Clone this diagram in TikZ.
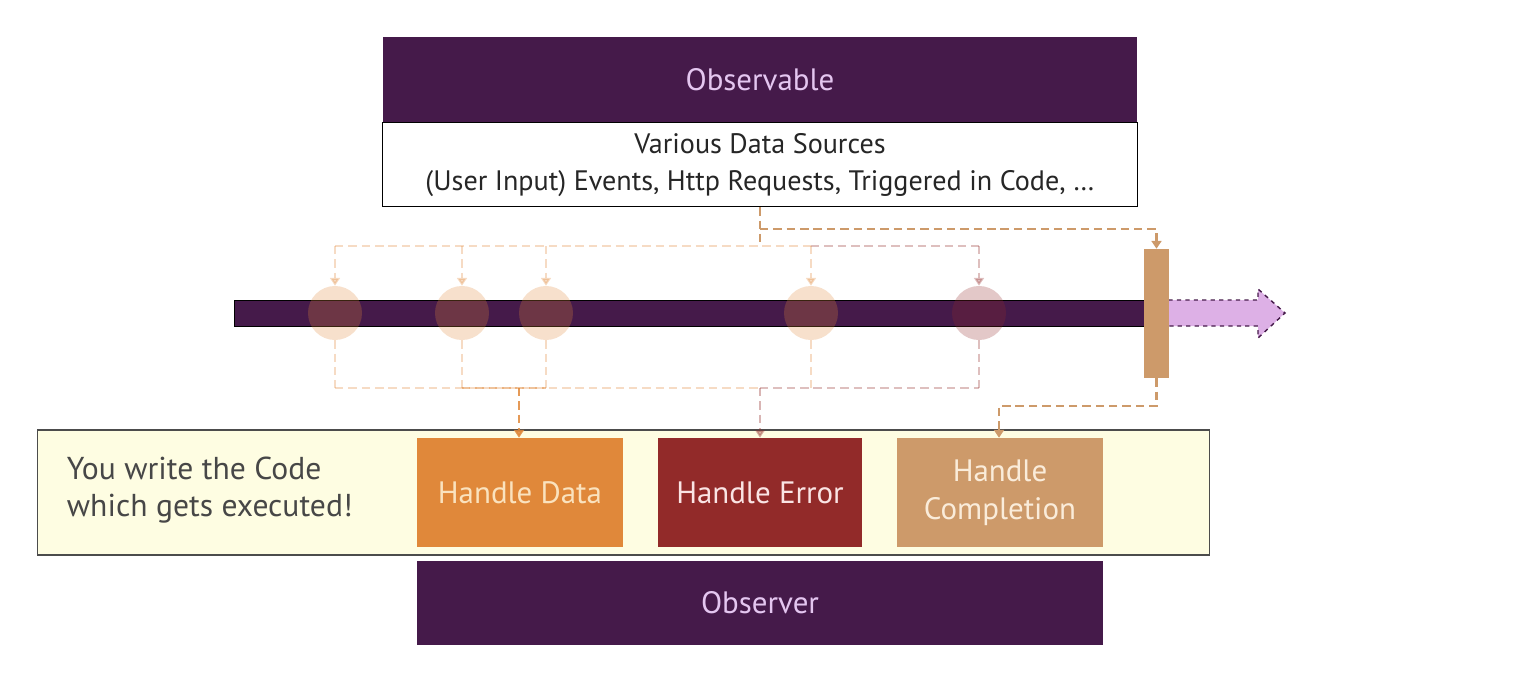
\documentclass[tikz,border=0pt]{standalone}
\usepackage{fontspec}
\setmainfont{PT Sans}
\usetikzlibrary{arrows.meta}

\definecolor{obspurple}{RGB}{69,26,74}
\definecolor{obstext}{RGB}{228,198,240}
\definecolor{codebg}{RGB}{254,253,226}
\definecolor{datacol}{RGB}{224,136,58}
\definecolor{errcol}{RGB}{146,42,41}
\definecolor{donecol}{RGB}{205,154,106}
\definecolor{lilac}{RGB}{221,176,230}

\tikzset{
  purplebox/.style={fill=obspurple, text=obstext, inner sep=0pt,
    font=\fontsize{22}{26}\selectfont},
  handler/.style={inner sep=0pt, minimum height=2.725cm, align=center,
    font=\fontsize{22}{27}\selectfont},
  event/.style={circle, inner sep=0pt, minimum size=1.35cm, fill opacity=0.26},
  flow/.style={line width=1.8pt, dash pattern=on 6pt off 3.5pt},
  tip/.style={-{Triangle[width=7pt,length=5.5pt]}}
}

\begin{document}
\begin{tikzpicture}[x=0.025cm,y=-0.025cm]
\useasboundingbox (0,0) rectangle (1540,683);
% Observable with its data sources
\node[purplebox, minimum width=18.85cm, minimum height=2.125cm] (obs) at (760,79.5) {Observable};
\node[draw=black, fill=white, line width=0.6pt, inner sep=0pt, minimum width=18.85cm, minimum height=2.1cm,
  anchor=north, align=center, text=black!85, font=\fontsize{20}{26.3}\selectfont] (src) at (obs.south)
  {Various Data Sources\\(User Input) Events, Http Requests, Triggered in Code, \dots};

% Stream (completion arrow first, bar on top)
\draw[fill=lilac, draw=obspurple, line width=1pt, dashed]
  (1160,300) -- (1258,300) -- (1258,289) -- (1285,313) -- (1258,338) -- (1258,326) -- (1160,326);
\node[draw=black, fill=obspurple, line width=0.5pt, inner sep=0pt, minimum width=22.9cm, minimum height=0.65cm] (stream) at (692,313) {};
\node[fill=donecol, inner sep=0pt, minimum width=0.625cm, minimum height=3.225cm] (done) at (1156.5,313.5) {};

% Emitted values
\foreach \name/\x/\c in {e1/335/datacol, e2/462/datacol, e3/546/datacol, e4/811/datacol, e5/979/errcol}
  \node[event, fill=\c] (\name) at (\x,313) {};

% Code box with the three handlers
\node[draw=black!70, fill=codebg, line width=0.8pt, inner sep=0pt, minimum width=29.275cm, minimum height=3.125cm] (code) at (623.5,492.5) {};
\node[anchor=west, align=left, text=black!72, font=\fontsize{22.5}{26.5}\selectfont] (note) at (62,490)
  {You write the Code\\which gets executed!};
\node[handler, fill=datacol, text={rgb,255:red,250;green,226;blue,190}, minimum width=5.15cm] (data) at (520,492.5) {Handle Data};
\node[handler, fill=errcol, text={rgb,255:red,250;green,228;blue,228}, minimum width=5.1cm] (err) at (760,492.5) {Handle Error};
\node[handler, fill=donecol, text={rgb,255:red,250;green,236;blue,218}, minimum width=5.15cm] (comp) at (1000,492.5) {Handle\\Completion};
\node[purplebox, minimum width=17.15cm, minimum height=2.1cm] (observer) at (760,603) {Observer};

% Junctions
\coordinate (split) at (760,229);
\coordinate (fanout) at (760,246);
\coordinate (fanin) at (760,388);
\coordinate (datain) at (519,388);
\coordinate (bend) at (999,406);

% Source to stream
\draw[flow, donecol] (src.south -| split) -- (split) -- (fanout);
\draw[flow, donecol, tip] (split) -| (done.north);
\draw[flow, datacol, opacity=0.3] (e1 |- fanout) -- (e4 |- fanout);
\draw[flow, errcol, opacity=0.3] (e4 |- fanout) -- (e5 |- fanout);
\foreach \e in {e1,e2,e3,e4}
  \draw[flow, datacol, opacity=0.3, tip] (\e |- fanout) -- (\e.north);
\draw[flow, errcol, opacity=0.3, tip] (e5 |- fanout) -- (e5.north);

% Stream to handlers
\foreach \e in {e1,e2,e3,e4}
  \draw[flow, datacol, opacity=0.3] (\e.south) -- (\e |- fanin);
\draw[flow, errcol, opacity=0.3] (e5.south) -- (e5 |- fanin);
\draw[flow, datacol, opacity=0.3] (e1 |- fanin) -- (fanin);
\draw[flow, errcol, opacity=0.3] (fanin) -- (e5 |- fanin);
\draw[flow, datacol, opacity=0.5] (e2 |- fanin) -- (e3 |- fanin);
\draw[flow, datacol, opacity=0.85, tip] (datain) -- (data.north -| datain);
\draw[flow, errcol, opacity=0.35, tip] (fanin) -- (err.north);
\draw[flow, donecol, tip] (done.south) |- (bend) -- (comp.north -| bend);
\end{tikzpicture}
\end{document}
